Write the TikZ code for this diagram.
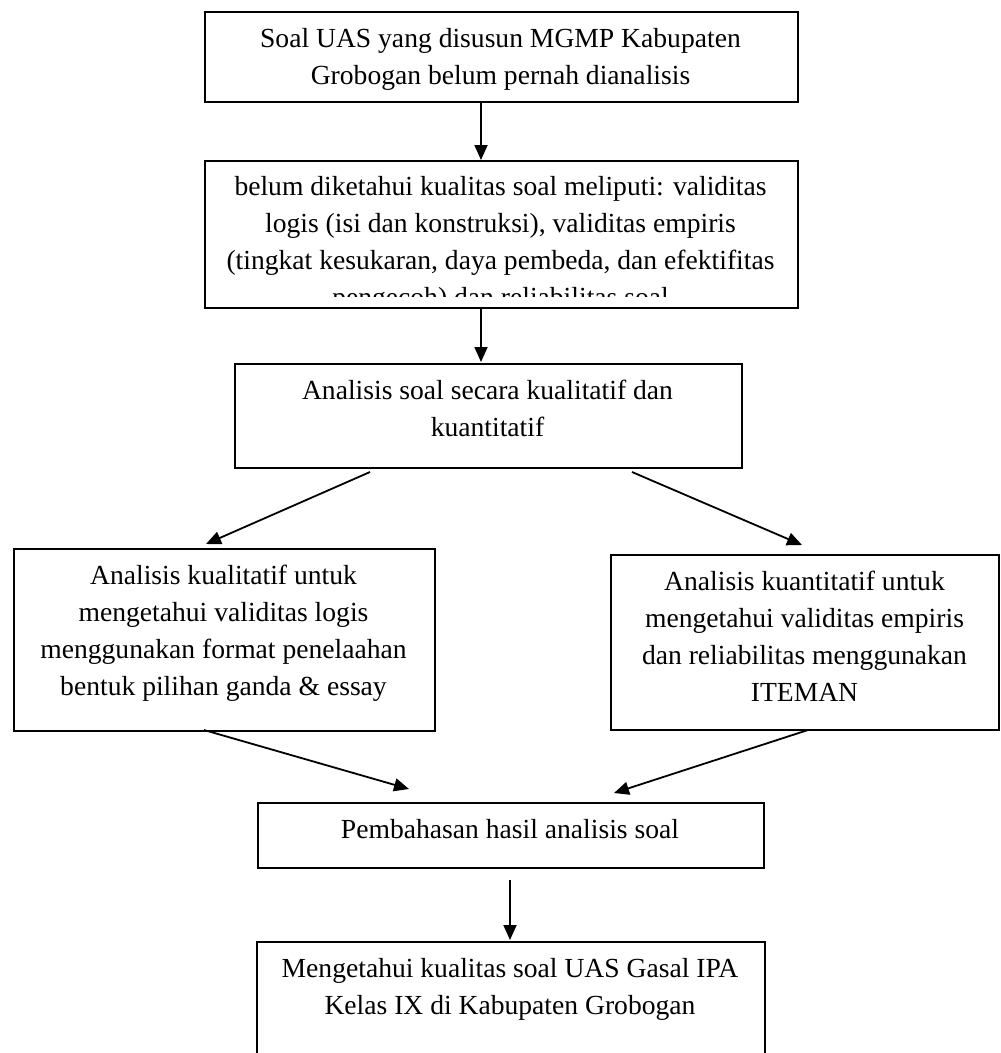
\documentclass[tikz,border=0pt]{standalone}
\usepackage{fontspec}
\setmainfont{Liberation Serif}
\usetikzlibrary{arrows.meta}
\begin{document}
\begin{tikzpicture}[x=1pt,y=-1pt,
  box/.style={draw=black, line width=2pt, anchor=north west, inner sep=0pt},
  txt/.style={inner sep=0pt, anchor=base, font=\fontsize{27.6}{37}\selectfont},
  arr/.style={line width=1.8pt, -{Triangle[length=15pt,width=13pt]}}]
\clip (0,0) rectangle (1001,1053);
\fill[white] (0,0) rectangle (1001,1053);
% boxes
\node[box, minimum width=593pt, minimum height=90pt]  (b1) at (204,11) {};
\node[box, minimum width=593pt, minimum height=147pt] (b2) at (204,160) {};
\node[box, minimum width=507pt, minimum height=104pt] (b3) at (234,363) {};
\node[box, minimum width=421pt, minimum height=182pt] (b4) at (13,548) {};
\node[box, minimum width=388pt, minimum height=175pt] (b5) at (610,554) {};
\node[box, minimum width=506pt, minimum height=65pt]  (b6) at (257,802) {};
\node[box, minimum width=508pt, minimum height=140pt] (b7) at (256,941) {};
% texts
\node[txt] (t1) at (500.5,47) {\parbox[t]{580pt}{\centering Soal UAS yang disusun MGMP Kabupaten\\Grobogan belum pernah dianalisis}};
\begin{scope}
\clip (205,161) rectangle (796,296);
\node[txt] (t2) at (500.5,195) {\parbox[t]{585pt}{\centering belum diketahui kualitas soal meliputi: validitas\\logis (isi dan konstruksi), validitas empiris\\(tingkat kesukaran, daya pembeda, dan efektifitas\\pengecoh) dan reliabilitas soal}};
\end{scope}
\node[txt] (t3) at (487.5,399) {\parbox[t]{495pt}{\centering Analisis soal secara kualitatif dan\\kuantitatif}};
\node[txt] (t4) at (223.5,584) {\parbox[t]{410pt}{\centering Analisis kualitatif untuk\\mengetahui validitas logis\\menggunakan format penelaahan\\bentuk pilihan ganda \& essay}};
\node[txt] (t5) at (804.5,590) {\parbox[t]{380pt}{\centering Analisis kuantitatif untuk\\mengetahui validitas empiris\\dan reliabilitas menggunakan\\ITEMAN}};
\node[txt] (t6) at (510,838) {\parbox[t]{495pt}{\centering Pembahasan hasil analisis soal}};
\node[txt] (t7) at (510,977) {\parbox[t]{495pt}{\centering Mengetahui kualitas soal UAS Gasal IPA\\Kelas IX di Kabupaten Grobogan}};
% connector end points
\coordinate (a1s) at (481,101);
\coordinate (a1e) at (481,160);
\coordinate (a2s) at (481,307);
\coordinate (a2e) at (481,362);
\coordinate (a3s) at (370,472);
\coordinate (a3e) at (206,544);
\coordinate (a4s) at (632,472);
\coordinate (a4e) at (802,545);
\coordinate (a5s) at (204,730);
\coordinate (a5e) at (409,789);
\coordinate (a6s) at (808,730);
\coordinate (a6e) at (614,793);
\coordinate (a7s) at (510,880);
\coordinate (a7e) at (510,940);
\draw[arr] (a1s) -- (a1e);
\draw[arr] (a2s) -- (a2e);
\draw[arr] (a3s) -- (a3e);
\draw[arr] (a4s) -- (a4e);
\draw[arr] (a5s) -- (a5e);
\draw[arr] (a6s) -- (a6e);
\draw[arr] (a7s) -- (a7e);
\end{tikzpicture}
\end{document}
